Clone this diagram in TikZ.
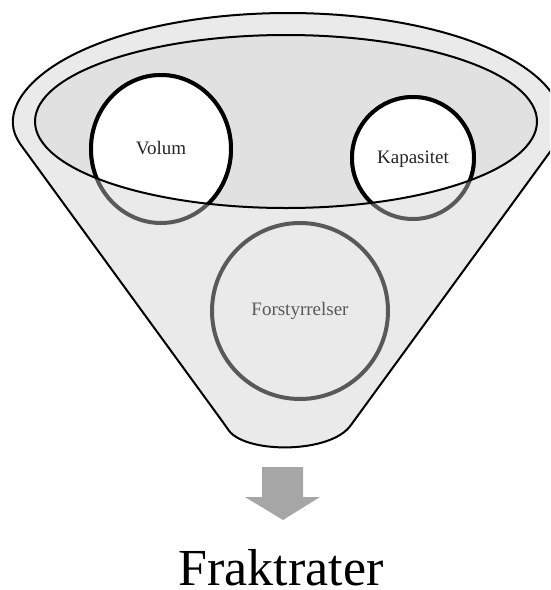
\documentclass[tikz,border=0pt]{standalone}
\usepackage{fontspec}
\setmainfont{Liberation Serif}
\definecolor{funnel}{HTML}{EAEAEA}
\definecolor{mouth}{HTML}{E1E1E1}
\definecolor{ringgray}{HTML}{595959}
\definecolor{arrowgray}{HTML}{A6A6A6}
\tikzset{
  rimline/.style={line width=2pt, draw=black},
  ringline/.style={line width=4pt},
  smalllabel/.style={font=\fontsize{19}{22}\selectfont, inner sep=0pt},
}
\begin{document}
\begin{tikzpicture}[x=1pt,y=1pt]
\useasboundingbox (0,0) rectangle (550,-590);
\clip (0,0) rectangle (550,-590);
% funnel body
\draw[rimline, fill=funnel, rounded corners=6pt] (288,-123) ++(-8.9:274 and 110)
  arc[start angle=-8.9, end angle=188.9, x radius=274, y radius=110]
  -- (225,-425) [sharp corners] .. controls (245,-454) and (331,-454) .. (351,-425) -- cycle;
% mouth
\fill[mouth] (286,-121.5) ellipse[x radius=251, y radius=86.5];
% lower (gray) parts of rings
\draw[ringline, draw=ringgray] (161,-149) ellipse[x radius=70, y radius=74];
\draw[ringline, draw=ringgray] (413,-158) circle[radius=61];
% upper parts inside mouth
\begin{scope}
  \clip (286,-121.5) ellipse[x radius=251, y radius=86.5];
  \draw[ringline, draw=black, fill=white] (161,-149) ellipse[x radius=70, y radius=74];
  \draw[ringline, draw=black, fill=white] (413,-158) circle[radius=61];
\end{scope}
\draw[rimline] (286,-121.5) ellipse[x radius=251, y radius=86.5];
% labels
\node[smalllabel, text=black!85] (volum) at (161,-148) {Volum};
\node[smalllabel, text=black!85] (kap) at (413,-159) {Kapasitet};
\node[circle, draw=ringgray, ringline, minimum size=176pt, inner sep=0pt,
      text=ringgray, font=\fontsize{19}{22}\selectfont] (forst) at (300,-311) {Forstyrrelser};
% arrow
\fill[arrowgray] (262,-467) -- (303,-467) -- (303,-497) -- (320,-497) -- (283,-520)
  -- (245,-497) -- (262,-497) -- cycle;
\node[anchor=base, inner sep=0pt, font=\fontsize{52}{60}\selectfont] (frak) at (281,-585) {Fraktrater};
\end{tikzpicture}
\end{document}
